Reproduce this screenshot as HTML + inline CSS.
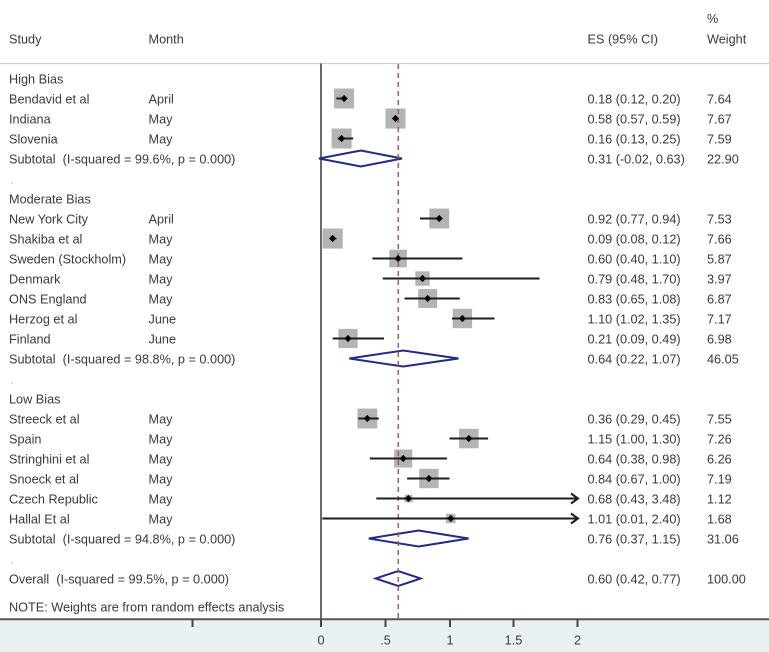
<!DOCTYPE html>
<html><head><meta charset="utf-8"><style>
html,body{margin:0;padding:0;background:#fff;}
svg{display:block;}
text{font-family:"Liberation Sans",Arial,sans-serif;font-size:12.7px;fill:#3a3a3a;}
</style></head><body>
<svg width="769" height="652" viewBox="0 0 769 652" xmlns="http://www.w3.org/2000/svg">
<rect x="0" y="0" width="769" height="652" fill="#fff"/>
<rect x="0" y="619" width="769" height="33" fill="#e9f1f3"/>
<!-- header -->
<text x="707" y="23">%</text>
<text x="9" y="43.5">Study</text>
<text x="148.5" y="43.5">Month</text>
<text x="587.5" y="43.5">ES (95% CI)</text>
<text x="707" y="43.5">Weight</text>
<line x1="0" y1="63.5" x2="769" y2="63.5" stroke="#cfcfcf" stroke-width="1.2"/>

<!-- axis -->
<line x1="321" y1="63.5" x2="321" y2="619" stroke="#444" stroke-width="1.6"/>

<!-- left text -->
<g>
<text x="9" y="83.5">High Bias</text>
<text x="9" y="103.5">Bendavid et al</text><text x="148.5" y="103.5">April</text>
<text x="9" y="123.5">Indiana</text><text x="148.5" y="123.5">May</text>
<text x="9" y="143.5">Slovenia</text><text x="148.5" y="143.5">May</text>
<text x="9" y="163.5" xml:space="preserve">Subtotal  (I-squared = 99.6%, p = 0.000)</text>
<text x="10" y="183.5" style="fill:#aaa">.</text>
<text x="9" y="203.5">Moderate Bias</text>
<text x="9" y="223.5">New York City</text><text x="148.5" y="223.5">April</text>
<text x="9" y="243.5">Shakiba et al</text><text x="148.5" y="243.5">May</text>
<text x="9" y="263.5">Sweden (Stockholm)</text><text x="148.5" y="263.5">May</text>
<text x="9" y="283.5">Denmark</text><text x="148.5" y="283.5">May</text>
<text x="9" y="303.5">ONS England</text><text x="148.5" y="303.5">May</text>
<text x="9" y="323.5">Herzog et al</text><text x="148.5" y="323.5">June</text>
<text x="9" y="343.5">Finland</text><text x="148.5" y="343.5">June</text>
<text x="9" y="363.5" xml:space="preserve">Subtotal  (I-squared = 98.8%, p = 0.000)</text>
<text x="10" y="383.5" style="fill:#aaa">.</text>
<text x="9" y="403.5">Low Bias</text>
<text x="9" y="423.5">Streeck et al</text><text x="148.5" y="423.5">May</text>
<text x="9" y="443.5">Spain</text><text x="148.5" y="443.5">May</text>
<text x="9" y="463.5">Stringhini et al</text><text x="148.5" y="463.5">May</text>
<text x="9" y="483.5">Snoeck et al</text><text x="148.5" y="483.5">May</text>
<text x="9" y="503.5">Czech Republic</text><text x="148.5" y="503.5">May</text>
<text x="9" y="523.5">Hallal Et al</text><text x="148.5" y="523.5">May</text>
<text x="9" y="543.5" xml:space="preserve">Subtotal  (I-squared = 94.8%, p = 0.000)</text>
<text x="10" y="563.5" style="fill:#aaa">.</text>
<text x="9" y="583.5" xml:space="preserve">Overall  (I-squared = 99.5%, p = 0.000)</text>
<text x="9" y="611.5">NOTE: Weights are from random effects analysis</text>
</g>

<!-- right text -->
<g>
<text x="587.5" y="103.5">0.18 (0.12, 0.20)</text><text x="707" y="103.5">7.64</text>
<text x="587.5" y="123.5">0.58 (0.57, 0.59)</text><text x="707" y="123.5">7.67</text>
<text x="587.5" y="143.5">0.16 (0.13, 0.25)</text><text x="707" y="143.5">7.59</text>
<text x="587.5" y="163.5">0.31 (-0.02, 0.63)</text><text x="707" y="163.5">22.90</text>
<text x="587.5" y="223.5">0.92 (0.77, 0.94)</text><text x="707" y="223.5">7.53</text>
<text x="587.5" y="243.5">0.09 (0.08, 0.12)</text><text x="707" y="243.5">7.66</text>
<text x="587.5" y="263.5">0.60 (0.40, 1.10)</text><text x="707" y="263.5">5.87</text>
<text x="587.5" y="283.5">0.79 (0.48, 1.70)</text><text x="707" y="283.5">3.97</text>
<text x="587.5" y="303.5">0.83 (0.65, 1.08)</text><text x="707" y="303.5">6.87</text>
<text x="587.5" y="323.5">1.10 (1.02, 1.35)</text><text x="707" y="323.5">7.17</text>
<text x="587.5" y="343.5">0.21 (0.09, 0.49)</text><text x="707" y="343.5">6.98</text>
<text x="587.5" y="363.5">0.64 (0.22, 1.07)</text><text x="707" y="363.5">46.05</text>
<text x="587.5" y="423.5">0.36 (0.29, 0.45)</text><text x="707" y="423.5">7.55</text>
<text x="587.5" y="443.5">1.15 (1.00, 1.30)</text><text x="707" y="443.5">7.26</text>
<text x="587.5" y="463.5">0.64 (0.38, 0.98)</text><text x="707" y="463.5">6.26</text>
<text x="587.5" y="483.5">0.84 (0.67, 1.00)</text><text x="707" y="483.5">7.19</text>
<text x="587.5" y="503.5">0.68 (0.43, 3.48)</text><text x="707" y="503.5">1.12</text>
<text x="587.5" y="523.5">1.01 (0.01, 2.40)</text><text x="707" y="523.5">1.68</text>
<text x="587.5" y="543.5">0.76 (0.37, 1.15)</text><text x="707" y="543.5">31.06</text>
<text x="587.5" y="583.5">0.60 (0.42, 0.77)</text><text x="707" y="583.5">100.00</text>
</g>

<!-- squares -->
<g fill="#b4b4b4">
<rect x="334.1" y="88.5" width="20" height="20"/>
<rect x="385.5" y="108.5" width="20.1" height="20.1"/>
<rect x="331.6" y="128.5" width="20" height="20"/>
<rect x="429.3" y="208.6" width="19.9" height="19.9"/>
<rect x="322.6" y="228.5" width="20.1" height="20.1"/>
<rect x="389.3" y="249.7" width="17.6" height="17.6"/>
<rect x="415.3" y="271.3" width="14.4" height="14.4"/>
<rect x="418.2" y="289" width="19" height="19"/>
<rect x="452.7" y="308.8" width="19.4" height="19.4"/>
<rect x="338.4" y="328.9" width="19.2" height="19.2"/>
<rect x="357.4" y="408.6" width="19.9" height="19.9"/>
<rect x="459.1" y="428.8" width="19.5" height="19.5"/>
<rect x="394.2" y="449.5" width="18.1" height="18.1"/>
<rect x="419.2" y="468.8" width="19.4" height="19.4"/>
<rect x="404.6" y="494.7" width="7.7" height="7.7"/>
<rect x="446.1" y="513.8" width="9.4" height="9.4"/>
</g>

<!-- diamonds -->
<g fill="#fff" stroke="#232b82" stroke-width="2" stroke-linejoin="miter">
<polygon points="319,158.5 360.8,150.5 402,158.5 360.8,166.5"/>
<polygon points="349.3,358.5 403.2,350.5 458.5,358.5 403.2,366.5"/>
<polygon points="368.8,538.5 418.7,530.5 468.6,538.5 418.7,546.5"/>
<polygon points="375.7,578.5 398.2,571 420.7,578.5 398.2,586"/>
</g>

<!-- reference dashed line -->
<line x1="398.3" y1="64" x2="398.3" y2="619" stroke="#a25a66" stroke-width="1.5" stroke-dasharray="5,4"/>

<!-- CI lines -->
<g stroke="#1e1e1e" stroke-width="2" fill="none">
<line x1="336.4" y1="98.5" x2="346.7" y2="98.5"/>
<line x1="394.2" y1="118.5" x2="396.8" y2="118.5"/>
<line x1="337.7" y1="138.5" x2="353.1" y2="138.5"/>
<line x1="420" y1="218.5" x2="441.8" y2="218.5"/>
<line x1="331.3" y1="238.5" x2="336.4" y2="238.5"/>
<line x1="372.4" y1="258.5" x2="462.4" y2="258.5"/>
<line x1="382.7" y1="278.5" x2="539.5" y2="278.5"/>
<line x1="404.5" y1="298.5" x2="459.8" y2="298.5"/>
<line x1="452.1" y1="318.5" x2="494.5" y2="318.5"/>
<line x1="332.6" y1="338.5" x2="384" y2="338.5"/>
<line x1="358.3" y1="418.5" x2="378.8" y2="418.5"/>
<line x1="449.5" y1="438.5" x2="488.1" y2="438.5"/>
<line x1="369.8" y1="458.5" x2="446.9" y2="458.5"/>
<line x1="407.1" y1="478.5" x2="449.5" y2="478.5"/>
<line x1="376.3" y1="498.5" x2="578" y2="498.5"/>
<line x1="322.3" y1="518.5" x2="578" y2="518.5"/>
<polyline points="571,493.5 578,498.5 571,503.5"/>
<polyline points="571,513.5 578,518.5 571,523.5"/>
</g>

<!-- point markers -->
<g fill="#000">
<polygon points="340.5,98.5 344.1,94.9 347.7,98.5 344.1,102.1"/>
<polygon points="391.9,118.5 395.5,114.9 399.1,118.5 395.5,122.1"/>
<polygon points="338,138.5 341.6,134.9 345.2,138.5 341.6,142.1"/>
<polygon points="435.6,218.5 439.2,214.9 442.8,218.5 439.2,222.1"/>
<polygon points="329,238.5 332.6,234.9 336.2,238.5 332.6,242.1"/>
<polygon points="394.5,258.5 398.1,254.9 401.7,258.5 398.1,262.1"/>
<polygon points="418.9,278.5 422.5,274.9 426.1,278.5 422.5,282.1"/>
<polygon points="424.1,298.5 427.7,294.9 431.3,298.5 427.7,302.1"/>
<polygon points="458.8,318.5 462.4,314.9 466,318.5 462.4,322.1"/>
<polygon points="344.4,338.5 348,334.9 351.6,338.5 348,342.1"/>
<polygon points="363.7,418.5 367.3,414.9 370.9,418.5 367.3,422.1"/>
<polygon points="465.2,438.5 468.8,434.9 472.4,438.5 468.8,442.1"/>
<polygon points="399.6,458.5 403.2,454.9 406.8,458.5 403.2,462.1"/>
<polygon points="425.3,478.5 428.9,474.9 432.5,478.5 428.9,482.1"/>
<polygon points="404.8,498.5 408.4,494.9 412,498.5 408.4,502.1"/>
<polygon points="447.2,518.5 450.8,514.9 454.4,518.5 450.8,522.1"/>
</g>

<!-- x axis -->
<line x1="0" y1="619.3" x2="769" y2="619.3" stroke="#555" stroke-width="2"/>
<g stroke="#444" stroke-width="2">
<line x1="192.5" y1="619" x2="192.5" y2="627"/>
<line x1="321" y1="619" x2="321" y2="627"/>
<line x1="385.5" y1="619" x2="385.5" y2="627"/>
<line x1="450" y1="619" x2="450" y2="627"/>
<line x1="513.5" y1="619" x2="513.5" y2="627"/>
<line x1="577.5" y1="619" x2="577.5" y2="627"/>
</g>
<g text-anchor="middle">
<text x="321" y="644.5">0</text>
<text x="385.5" y="644.5">.5</text>
<text x="450" y="644.5">1</text>
<text x="513.5" y="644.5">1.5</text>
<text x="577.5" y="644.5">2</text>
</g>
</svg>
</body></html>
